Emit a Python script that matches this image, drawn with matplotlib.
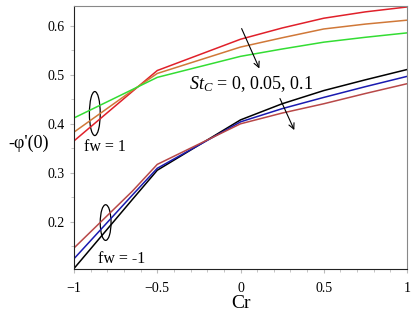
import matplotlib
matplotlib.use("Agg")
import matplotlib.pyplot as plt
from matplotlib.patches import Ellipse
from matplotlib.ticker import MultipleLocator

plt.rcParams['font.family'] = ['Liberation Serif', 'DejaVu Serif']
plt.rcParams['mathtext.fontset'] = 'custom'
plt.rcParams['mathtext.it'] = 'Liberation Serif:italic'
plt.rcParams['mathtext.rm'] = 'Liberation Serif'

cr = [-1.0, -0.65, -0.5, 0.0, 0.25, 0.5, 0.75, 1.0]

# fw = 1
fw1_st0 = [0.365, 0.466, 0.509, 0.573, 0.596, 0.616, 0.629, 0.639]
fw1_st005 = [0.383, 0.468, 0.503, 0.557, 0.576, 0.594, 0.604, 0.612]
fw1_st01 = [0.412, 0.470, 0.495, 0.538, 0.553, 0.567, 0.577, 0.586]

# fw = -1
fwm1_st0 = [0.104, 0.245, 0.305, 0.408, 0.441, 0.468, 0.490, 0.511]
fwm1_st005 = [0.124, 0.254, 0.309, 0.404, 0.431, 0.454, 0.476, 0.497]
fwm1_st01 = [0.146, 0.262, 0.317, 0.400, 0.422, 0.441, 0.462, 0.482]

fig = plt.figure(figsize=(4.15, 3.17), dpi=100)
ax = fig.add_axes([74/415, 1-269/317, (407-74)/415, (269-6)/317])

lw = 1.1
ax.plot(cr, fw1_st0, color='#e0202a', lw=lw)
ax.plot(cr, fw1_st005, color='#d07838', lw=lw)
ax.plot(cr, fw1_st01, color='#33dd33', lw=lw)
ax.plot(cr, fwm1_st0, color='#000000', lw=lw)
ax.plot(cr, fwm1_st005, color='#1a1ab0', lw=lw)
ax.plot(cr, fwm1_st01, color='#b84848', lw=lw)

ax.set_xlim(-1, 1)
ax.set_ylim(0.103, 0.641)
ax.xaxis.set_major_locator(MultipleLocator(0.5))
ax.xaxis.set_minor_locator(MultipleLocator(0.1))
ax.yaxis.set_major_locator(MultipleLocator(0.1))
ax.yaxis.set_minor_locator(MultipleLocator(0.05))
ax.set_xticks([-1, -0.5, 0, 0.5, 1])
ax.set_xticklabels(['−1', '−0.5', '0', '0.5', '1'])
ax.tick_params(which='both', direction='out', color='#bbbbbb', labelsize=10)
ax.tick_params(which='major', length=3)
ax.tick_params(which='minor', length=2)
ax.tick_params(axis='x', pad=6)

for s in ['top', 'right']:
    ax.spines[s].set_color('#888888')
for s in ['left', 'bottom']:
    ax.spines[s].set_color('#222222')

ax.set_xlabel('Cr', fontsize=14, labelpad=0)
fig.text(8/415, 1-143/317, "-φ'(0)", fontsize=13, ha='left', va='center')

ax.add_patch(Ellipse((-0.875, 0.421), 0.065, 0.09, fill=False, lw=0.9, color='black'))
ax.add_patch(Ellipse((-0.81, 0.198), 0.065, 0.073, fill=False, lw=0.9, color='black'))
ax.text(-0.94, 0.353, 'fw = 1', fontsize=11.5, va='center', ha='left')
ax.text(-0.855, 0.124, 'fw = -1', fontsize=11.5, va='center', ha='left')

ax.text(-0.31, 0.482, r'$St_C$ = 0, 0.05, 0.1', fontsize=13, va='center', ha='left')
ax.annotate('', xy=(0.12, 0.508), xytext=(0.0, 0.6),
            arrowprops=dict(arrowstyle='->', lw=0.8, color='black'))
ax.annotate('', xy=(0.33, 0.382), xytext=(0.23, 0.457),
            arrowprops=dict(arrowstyle='->', lw=0.8, color='black'))

fig.savefig('out.png', dpi=100)
